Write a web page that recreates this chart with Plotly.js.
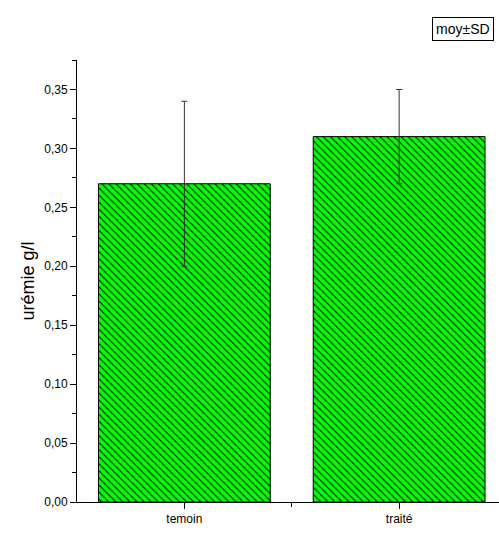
<!DOCTYPE html>
<html><head><meta charset="utf-8">
<script src="https://cdn.plot.ly/plotly-3.0.1.min.js"></script>
<style>body{margin:0;background:#fff}#c{width:499px;height:533px}</style>
</head><body><div id="c"></div>
<script>
var categories = ["temoin", "traité"];
var means = [0.27, 0.31];
var sds = [0.07, 0.04];
var yTickVals = [0, 0.05, 0.10, 0.15, 0.20, 0.25, 0.30, 0.35];

var xpos = categories.map(function(_, i){ return i; });
var trace = {
  type: 'bar', x: xpos, y: means, width: 0.8,
  marker: {color: '#00ff00', line: {color: '#000', width: 1},
    pattern: {shape: '\\', fgcolor: '#000', bgcolor: '#00ff00', size: 5, solidity: 0.2}},
  error_y: {type: 'data', array: sds, visible: true, color: '#333', thickness: 1, width: 3}
};
var layout = {
  width: 499, height: 533,
  margin: {l: 77, r: 0, t: 60, b: 31},
  paper_bgcolor: '#fff', plot_bgcolor: '#fff',
  separators: ',.',
  showlegend: false,
  font: {family: 'Liberation Sans, Arial, sans-serif', color: '#000', size: 12},
  xaxis: {range: [-0.5, 1.465], tickvals: xpos, ticktext: categories, ticks: 'outside', ticklen: 6,
    tickcolor: '#000', showline: true, linecolor: '#000', linewidth: 1, showgrid: false, zeroline: false,
    tickfont: {size: 12}, fixedrange: true,
    minor: {tickvals: [0.5], ticks: 'outside', ticklen: 4, tickcolor: '#000', showgrid: false}},
  yaxis: {range: [0, 0.375], tickvals: yTickVals, tickformat: '.2f', ticks: 'outside', ticklen: 6,
    tickcolor: '#000', showline: true, linecolor: '#000', linewidth: 1, showgrid: false, zeroline: false,
    tickfont: {size: 12}, ticklabelstandoff: 0,
    minor: {dtick: 0.025, tick0: 0, ticks: 'outside', ticklen: 4, tickcolor: '#000', showgrid: false},
    title: {text: 'urémie g/l', font: {size: 18}, standoff: 4}},
  annotations: [{xref: 'paper', yref: 'paper', yanchor: 'middle', xanchor: 'right',
    text: 'moy±SD', showarrow: false, bordercolor: '#000', borderwidth: 1, borderpad: 3,
    font: {size: 14}}]
};
layout.annotations[0].x = 1 - 5 / 422;
layout.annotations[0].y = 1 + (60 - 29) / 442;
Plotly.newPlot('c', [trace], layout, {displayModeBar: false});
</script></body></html>
